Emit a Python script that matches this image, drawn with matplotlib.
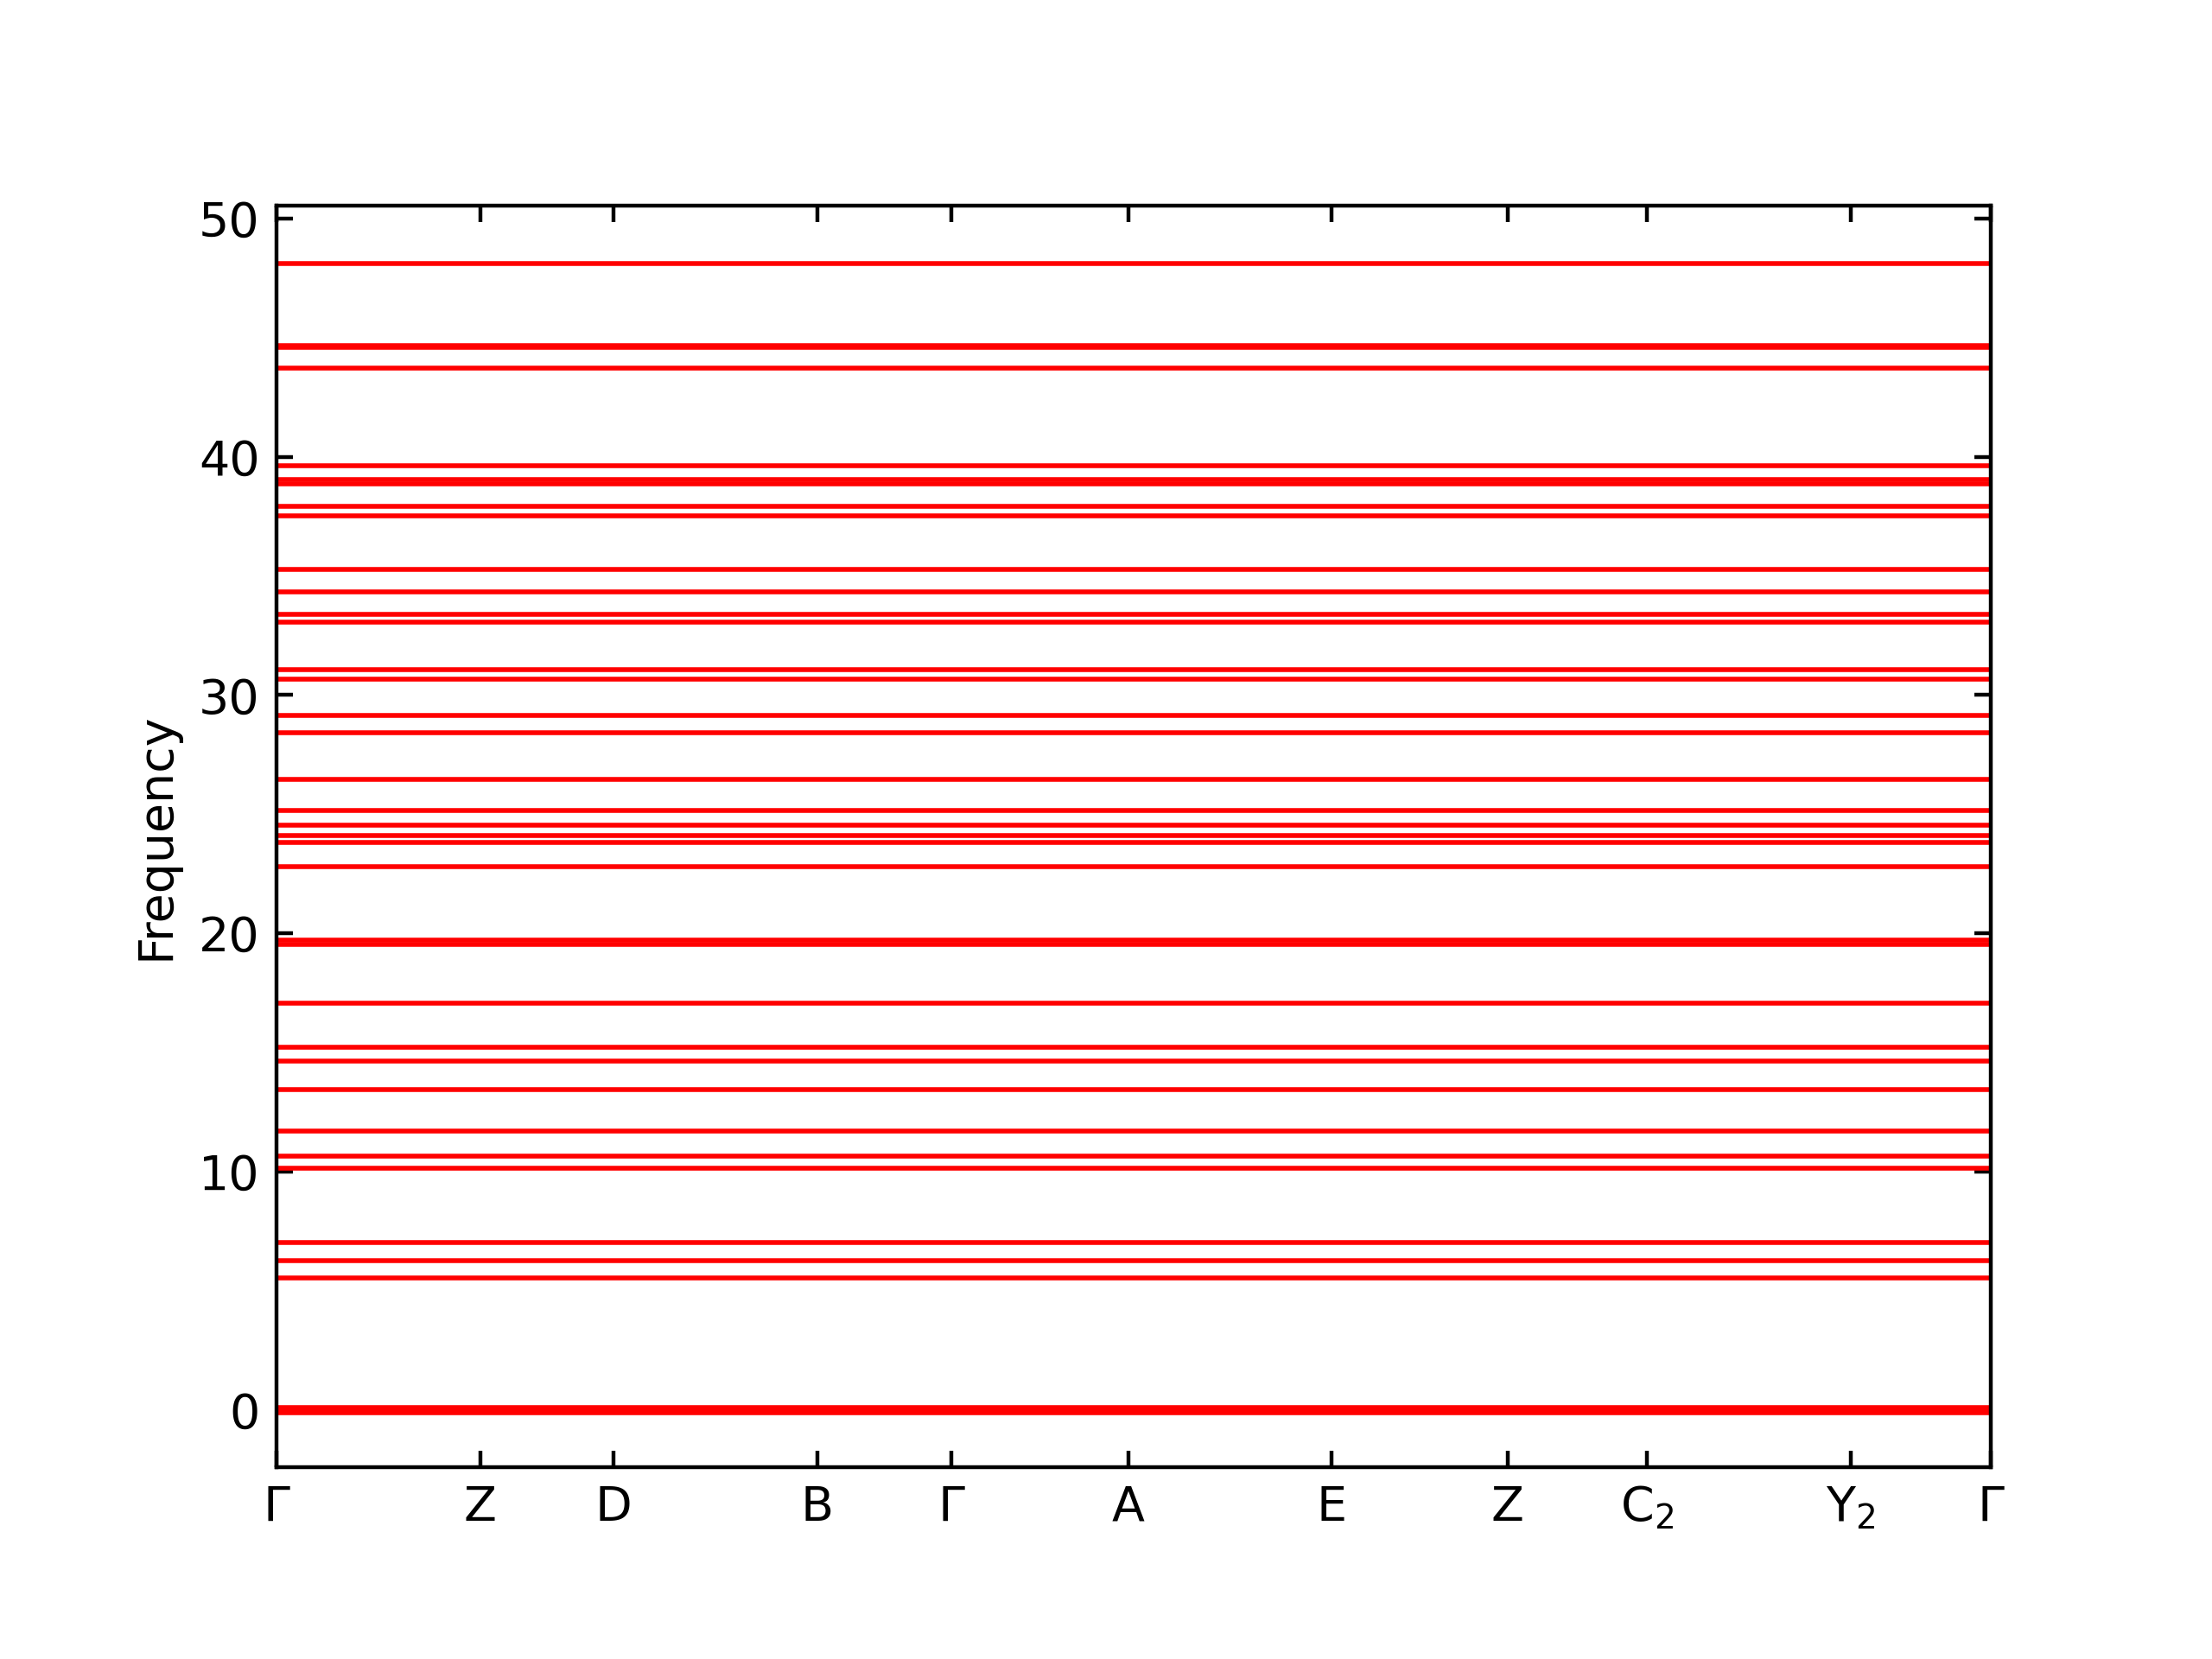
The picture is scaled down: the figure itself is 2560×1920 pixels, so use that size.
import matplotlib
matplotlib.use("Agg")
import matplotlib.pyplot as plt

# high-symmetry points along the path (cumulative, normalised)
kpoint_labels = ["Γ", "Z", "D", "B", "Γ", "A", "E", "Z", "C$_2$", "Y$_2$", "Γ"]
kpoint_pos = [0.0, 0.1188, 0.1965, 0.3155, 0.3935, 0.4968, 0.6156, 0.7181, 0.7995, 0.9183, 1.0]

# flat bands
frequencies = [
    -0.1, 0.0, 0.1,
    5.53, 6.25, 7.01,
    10.13, 10.64, 11.72,
    13.44, 14.63, 15.21, 17.06,
    19.52, 19.72,
    22.79, 23.82, 24.11, 24.54, 25.15, 26.46,
    28.41, 29.14, 30.67, 31.06,
    33.07, 33.39, 34.32, 35.27,
    37.53, 37.93, 38.85, 39.03, 39.64,
    43.73, 44.6, 44.67, 48.13,
]

fig, ax = plt.subplots(figsize=(6.4, 4.8))
fig.subplots_adjust(left=0.125, right=0.9, bottom=0.1155, top=0.876)

for f in frequencies:
    ax.plot(kpoint_pos, [f] * len(kpoint_pos), color="red", linewidth=1.0)

ax.set_xlim(kpoint_pos[0], kpoint_pos[-1])
ax.set_ylim(-2.41, 50.54)
ax.set_xticks(kpoint_pos)
ax.set_xticklabels(kpoint_labels)
ax.set_yticks([0, 10, 20, 30, 40, 50])
ax.tick_params(direction="in", top=True, right=True)
ax.set_ylabel("Frequency")

plt.savefig("out.png", dpi=400)
